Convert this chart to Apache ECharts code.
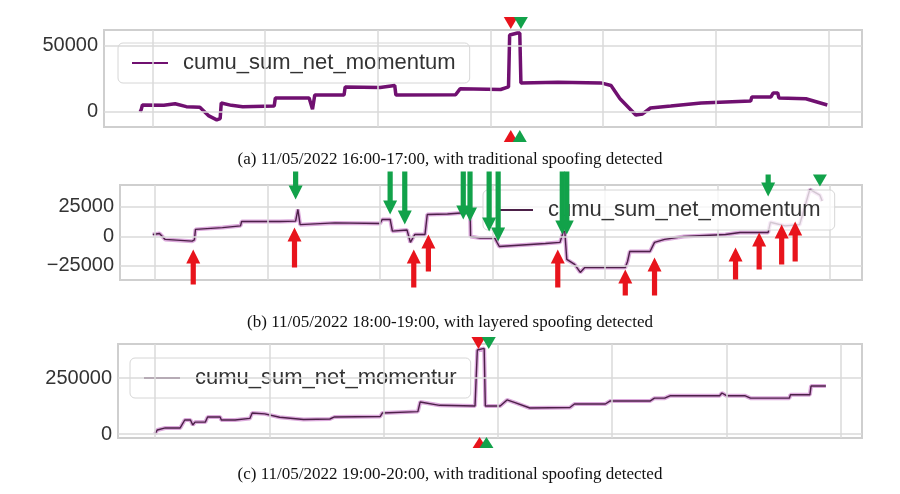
<!DOCTYPE html>
<html><head><meta charset="utf-8">
<script src="https://cdn.jsdelivr.net/npm/echarts@6/dist/echarts.min.js"></script>
<style>html,body{margin:0;background:#fff}#c{width:900px;height:494px}</style>
</head><body><div id="c"></div>
<script>
const seriesName = 'cumu_sum_net_momentum';
const captions = [
  '(a) 11/05/2022 16:00-17:00, with traditional spoofing detected',
  '(b) 11/05/2022 18:00-19:00, with layered spoofing detected',
  '(c) 11/05/2022 19:00-20:00, with traditional spoofing detected'
];
const xGridMinutes = [0,10,20,30,40,50,60];
const aTicks = [0, 50000];
const bTicks = [-25000, 0, 25000];
const cTicks = [0, 250000];

const aData = [[-1.1,0],[-1.0,2000],[-0.9,5300],[1,5000],[2,6200],[3,4000],[4.2,3500],[5,-3000],[5.7,-6000],[6.0,-5000],[6.1,6800],[7,5000],[8,4000],[10.8,4500],[10.9,10600],[13.9,10600],[14.2,2000],[14.4,12900],[17.0,12900],[17.1,19000],[20.2,18500],[20.3,20000],[21.5,20000],[21.6,12900],[26.9,13000],[27.3,17500],[30.9,17000],[31.6,19000],[31.7,58300],[32.4,59800],[32.6,59800],[32.7,22000],[36,22500],[39.8,22000],[40.7,20000],[41.5,10000],[42.9,-2300],[43.5,-1500],[44.2,3000],[46,4500],[48.7,6800],[53.1,8300],[53.2,11400],[54.9,11400],[55.1,14400],[55.5,14400],[55.6,10600],[58,10000],[59.9,5300]];
const bData = [[-0.2,1700],[0.4,2500],[0.9,-2500],[3.3,-4000],[3.5,-3000],[3.6,6000],[6,7500],[7.6,9000],[7.7,12700],[11.1,12700],[12.5,13000],[12.7,22900],[12.9,10000],[16,11500],[20.0,11000],[20.2,14400],[20.9,14400],[21.1,4500],[22.4,5500],[22.7,-5000],[23.1,1700],[24.0,1700],[24.2,18600],[26,19000],[27.8,20300],[28.0,25400],[28.05,0],[28.9,-1400],[30.2,-1400],[30.4,-5000],[30.6,-8500],[33,-7000],[34.7,-6000],[36.0,-5000],[36.4,7600],[36.6,-19500],[37.3,-23700],[37.8,-30500],[38.2,-26300],[41.8,-26300],[42.0,-21200],[42.2,-12700],[44.0,-12700],[44.4,-5000],[45.3,-2500],[47,0],[50.7,1700],[52,3400],[54.5,3400],[54.7,12000],[56,9000],[57.3,10000],[58.2,39800],[59.1,35000],[59.3,30000]];
const cData = [[0,0],[0.2,18000],[0.9,27000],[2.2,27000],[2.6,62500],[3.1,62500],[3.3,40000],[3.5,53000],[4.4,53000],[4.6,76000],[5.7,76000],[5.8,62500],[7.0,62500],[7.1,69600],[8.3,69600],[8.5,94000],[9.6,90000],[10.9,75000],[13,65000],[15.3,67000],[15.7,76000],[19.7,78000],[19.9,94000],[23.0,100000],[23.2,143000],[24.9,128000],[28.0,125000],[28.2,375000],[28.8,382000],[28.9,125000],[30.2,125000],[30.8,152000],[31.5,140000],[32.8,116000],[36.3,118000],[36.7,134000],[39.4,134000],[39.8,147000],[43.3,147000],[43.7,160000],[44.6,160000],[45.1,171000],[49.4,171000],[49.6,183000],[50.0,171000],[51.6,171000],[52.1,160000],[55.5,160000],[55.6,175000],[57.3,175000],[57.4,214000],[58.7,214000]];

// markers: [minute, tailValue, tipValue]
const aRedMarks = [[31.8,72000,62900],[31.8,-22700,-13600]];
const aGreenMarks = [[32.7,72000,62900],[32.6,-22700,-13600]];
const bGreenArrows = [[12.5,55100,31400],[20.9,55100,18600],[22.2,55100,10200],[27.4,55100,14400],[28.0,55100,12700],[29.7,55100,4200],[30.5,55100,-4200],[36.2,55100,1700],[36.6,55100,1700],[54.5,52500,33900],[59.1,52500,42400]];
const bRedArrows = [[3.4,-40700,-11000],[12.4,-26300,7600],[23.0,-43200,-11000],[24.3,-29700,1700],[35.8,-43200,-11000],[41.8,-50000,-28000],[44.4,-50000,-17800],[51.6,-36400,-9300],[53.7,-28000,3400],[55.7,-23700,10200],[56.9,-21200,12700]];
const cRedMarks = [[28.3,433000,379000],[28.4,-62500,-13400]];
const cGreenMarks = [[29.2,433000,379000],[29.0,-62500,-13400]];

const RED = '#e8141c', GREEN = '#12a24a';
const grids = [
  {left:104, top:30, right:38, height:97},
  {left:120, top:185, right:38, height:95},
  {left:118, top:344, right:38, height:94}
];
const xr = [[-4.31,62.98],[-3.11,62.84],[-3.24,61.86]];
const yr = [[-11400,62100],[-36900,43600],[-17900,401800]];
const ticks = [aTicks,bTicks,cTicks];

function arrowItem(color){
  return function(params, api){
    const p1 = api.coord([api.value(0), api.value(1)]);
    const p2 = api.coord([api.value(0), api.value(2)]);
    const dir = p2[1] > p1[1] ? 1 : -1;
    const len = Math.abs(p2[1]-p1[1]);
    const hl = Math.min(14, len), hw = 7, sw = 2.6;
    const x = p1[0], yb = p2[1] - dir*hl;
    const pts = len > hl + 0.5 ?
      [[x-sw,p1[1]],[x+sw,p1[1]],[x+sw,yb],[x+hw,yb],[x,p2[1]],[x-hw,yb],[x-sw,yb]] :
      [[x-hw,p1[1]],[x+hw,p1[1]],[x,p2[1]]];
    return {type:'polygon', shape:{points:pts}, style:{fill:color}};
  };
}
function gridLines(i){
  const d = xGridMinutes.map(v=>({xAxis:v}));
  ticks[i].forEach(v=>d.push({yAxis:v}));
  return {silent:true, symbol:'none', animation:false, label:{show:false},
    lineStyle:{color:'#dadada', width:1.5, type:'solid'}, data:d};
}
const datas = [aData,bData,cData];
const series = [];
datas.forEach((d,i)=>{
  if(i>0) series.push({type:'line', name:'under'+i, xAxisIndex:i, yAxisIndex:i, data:d, showSymbol:false,
    lineStyle:{color:'#dcaadc', width:4}, z:2, animation:false, markLine:gridLines(i)});
  series.push({type:'line', name:['A','B','C'][i], xAxisIndex:i, yAxisIndex:i, data:d, showSymbol:false,
    color: i===0 ? '#701070' : '#4c2048',
    lineStyle:{color: i===0 ? '#701070' : '#4c2048', width: i===0 ? 3.5 : 1.4}, z:3, animation:false,
    markLine: i===0 ? gridLines(0) : undefined});
});
const markSets = [[aRedMarks,RED,0],[aGreenMarks,GREEN,0],[bGreenArrows,GREEN,1],[bRedArrows,RED,1],[cRedMarks,RED,2],[cGreenMarks,GREEN,2]];
markSets.forEach(([d,col,i])=>series.push({type:'custom', xAxisIndex:i, yAxisIndex:i, data:d, clip:false,
  renderItem:arrowItem(col), z:20, zlevel:1, animation:false, silent:true}));

const legendPos = [{left:118,top:43},{left:483,top:190},{left:130,top:358}];
const legendText = ['cumu_sum_net_momentum','cumu_sum_net_momentum','cumu_sum_net_momentur'];
const legends = legendPos.map((p,i)=>({left:p.left, top:p.top, data:[['A','B','C'][i]], icon:'rect', itemWidth:36, itemHeight:2,
  padding:[9,14,9,14], itemGap:10, backgroundColor: i===1 ? 'rgba(255,255,255,0.75)' : '#fff', borderColor:'#d6d6d6', borderWidth:1, borderRadius:5,
  z: i===1 ? 8 : 1, formatter:()=>legendText[i], textStyle:{fontSize:22, color:'#333', fontFamily:'Liberation Sans', padding:[0,0,0,10]}}));

const option = {
  animation:false,
  title: captions.map((t,i)=>({text:t, left:'center', top:[146,309,461][i], textStyle:{fontFamily:'Liberation Serif', fontSize:17, fontWeight:'normal', color:'#111'}})),
  legend: legends,
  grid: grids.map(g=>Object.assign({show:true, borderColor:'#cfcfcf', borderWidth:2, backgroundColor:'#fff'}, g)),
  xAxis: xr.map((r,i)=>({type:'value', gridIndex:i, min:r[0], max:r[1], axisLine:{show:false}, axisTick:{show:false}, axisLabel:{show:false}, splitLine:{show:false}})),
  yAxis: yr.map((r,i)=>({type:'value', gridIndex:i, min:r[0], max:r[1], axisLine:{show:false}, axisTick:{show:false}, splitLine:{show:false},
    axisLabel:{customValues:ticks[i], fontSize:20, color:'#333', fontFamily:'Liberation Sans', margin:6, showMinLabel:true, showMaxLabel:true,
      formatter:v=>v<0?'\u2212'+Math.abs(v):String(v)}})),
  series: series
};
echarts.init(document.getElementById('c')).setOption(option);
</script></body></html>
